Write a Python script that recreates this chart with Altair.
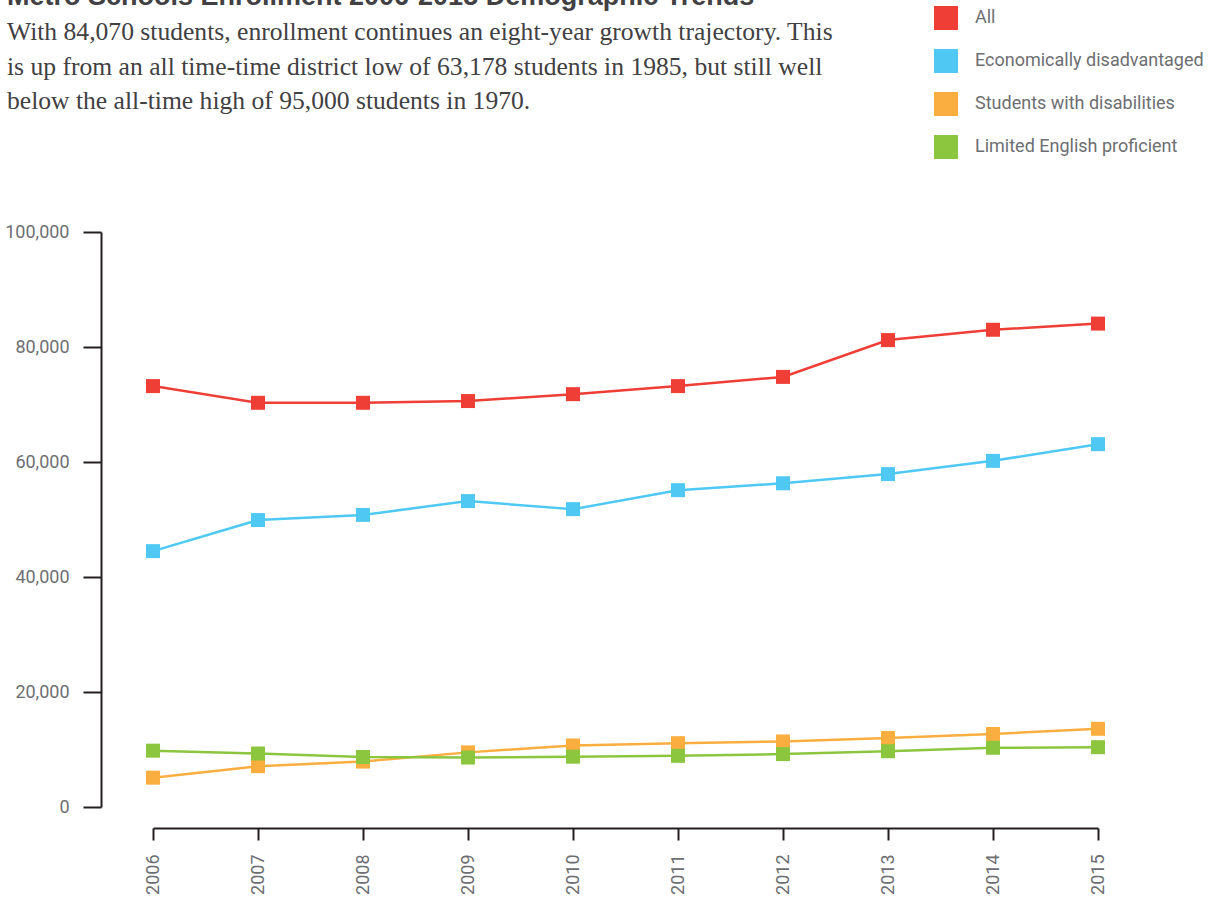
import altair as alt
import pandas as pd

years = [2006, 2007, 2008, 2009, 2010, 2011, 2012, 2013, 2014, 2015]
series_names = ["All", "Economically disadvantaged", "Students with disabilities", "Limited English proficient"]
all_students = [73200, 70300, 70300, 70600, 71800, 73200, 74800, 81200, 83000, 84070]
econ_disadv = [44500, 49900, 50800, 53200, 51800, 55100, 56300, 57900, 60200, 63100]
disabilities = [5100, 7100, 7900, 9500, 10700, 11100, 11400, 12000, 12700, 13600]
limited_english = [9800, 9300, 8700, 8600, 8750, 8900, 9200, 9700, 10300, 10400]
colors = ["#EF3E36", "#4FC9F4", "#FBAE40", "#8CC63F"]
y_ticks = [0, 20000, 40000, 60000, 80000, 100000]

title_text = "Metro Schools Enrollment 2006-2015 Demographic Trends"
subtitle_lines = [
    "With 84,070 students, enrollment continues an eight-year growth trajectory. This",
    "is up from an all time-time district low of 63,178 students in 1985, but still well",
    "below the all-time high of 95,000 students in 1970.",
]

rows = []
for name, vals in zip(series_names, [all_students, econ_disadv, disabilities, limited_english]):
    for yr, v in zip(years, vals):
        rows.append({"year": yr, "value": v, "series": name, "k": series_names.index(name)})
df = pd.DataFrame(rows)

AX = "#231F20"
LAB = "#6D6E71"
FONT = "Roboto"

x_enc = alt.X(
    "year:O",
    scale=alt.Scale(padding=0),
    axis=alt.Axis(
        title=None, labelAngle=-90, offset=21, domainColor=AX, domainWidth=2,
        tickColor=AX, tickWidth=2, tickSize=12, labelPadding=14,
        labelFont=FONT, labelFontSize=18, labelColor=LAB,
    ),
)
y_enc = alt.Y(
    "value:Q",
    scale=alt.Scale(domain=[0, 100000], nice=False),
    axis=alt.Axis(
        title=None, values=y_ticks, format=",.0f", offset=52, grid=False,
        domainColor=AX, domainWidth=2, tickColor=AX, tickWidth=2, tickSize=18,
        labelPadding=14, labelFont=FONT, labelFontSize=18, labelColor=LAB,
    ),
)
color_enc = alt.Color(
    "series:N",
    sort=series_names,
    scale=alt.Scale(domain=series_names, range=colors),
    legend=alt.Legend(
        title=None, orient="none", legendX=781, legendY=-226, padding=0,
        symbolType="square", symbolSize=576, symbolStrokeWidth=0, symbolOpacity=1,
        rowPadding=19, labelOffset=17, labelFont=FONT, labelFontSize=18,
        labelColor=LAB, labelLimit=400,
    ),
)

base = alt.Chart(df).encode(x=x_enc, y=y_enc, color=color_enc, order=alt.Order("k:Q"))
lines = base.mark_line(strokeWidth=2.5)
points = base.mark_point(shape="square", filled=True, size=196, opacity=1)

chart = alt.layer(lines, points).properties(
    width=945,
    height=575,
    autosize=alt.AutoSizeParams(type="none"),
    padding={"left": 153, "top": 232, "right": 111, "bottom": 91},
    title=alt.Title(
        title_text,
        subtitle=subtitle_lines,
        anchor="start",
        frame="group",
        dx=-146,
        offset=-110,
        font="Liberation Sans",
        fontSize=27,
        fontWeight="bold",
        color="#414042",
        subtitleFont="Liberation Serif",
        subtitleFontSize=25.6,
        subtitleColor="#414042",
        subtitleLineHeight=34.5,
        subtitlePadding=9,
    ),
).configure(background="white", view=alt.ViewConfig(strokeWidth=0))

chart.save("out.html", embed_options={"renderer": "svg", "actions": False})
